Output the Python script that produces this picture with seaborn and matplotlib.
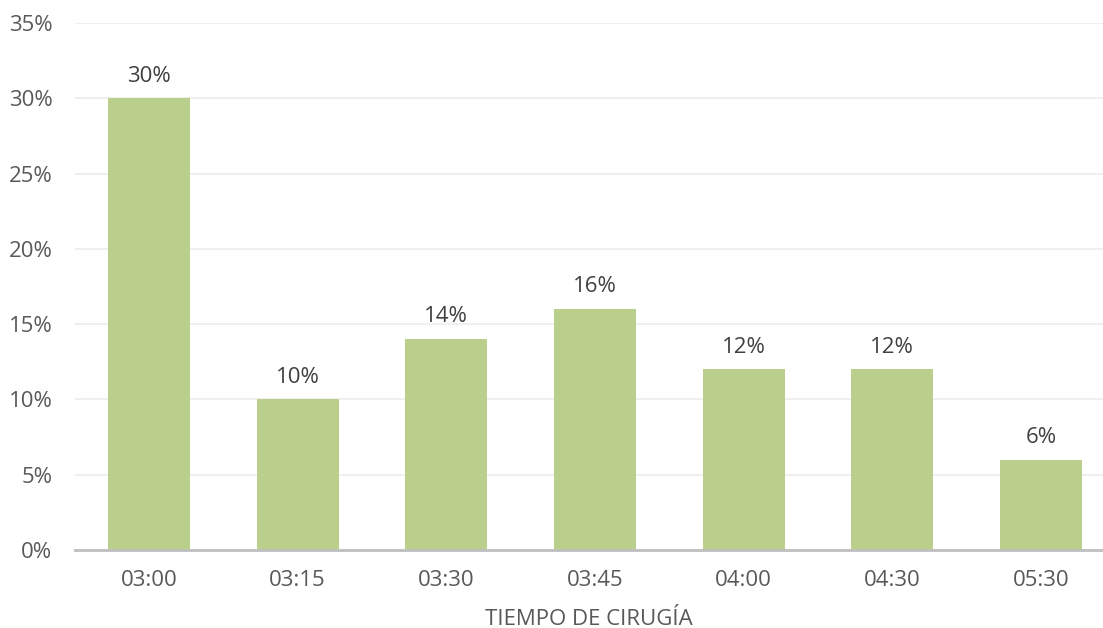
import numpy as np
import matplotlib
matplotlib.use("Agg")
import matplotlib.pyplot as plt
import seaborn as sns
from matplotlib.ticker import PercentFormatter

# datos
tiempos = ["03:00", "03:15", "03:30", "03:45", "04:00", "04:30", "05:30"]
porcentajes = [0.30, 0.10, 0.14, 0.16, 0.12, 0.12, 0.06]
etiquetas = ["30%", "10%", "14%", "16%", "12%", "12%", "6%"]

sns.set_theme(style="white")
plt.rcParams["font.family"] = ["Open Sans", "DejaVu Sans"]

W, H = 1103, 628
fig = plt.figure(figsize=(W / 100, H / 100), dpi=100)
ax = fig.add_axes([74.67 / W, 78 / H, (W - 74.67) / W, 527 / H])

sns.barplot(x=tiempos, y=porcentajes, color="#bbcf8c", width=0.55,
            saturation=1, linewidth=0, ax=ax, zorder=3)

ax.set_xlim(-0.5, 6.417)
ax.set_ylim(0, 0.35)
ax.set_yticks(np.arange(0, 0.351, 0.05))
ax.yaxis.set_major_formatter(PercentFormatter(1.0, decimals=0))
ax.grid(axis="y", color="#ececec", linewidth=1.2, zorder=0)

for s in ["top", "right", "left"]:
    ax.spines[s].set_visible(False)
ax.spines["bottom"].set_color("#bfbfbf")
ax.spines["bottom"].set_linewidth(2)
ax.spines["bottom"].set_zorder(4)

ax.tick_params(axis="both", length=0, labelsize=16, labelcolor="#595959")
ax.tick_params(axis="x", pad=14.5)
ax.tick_params(axis="y", pad=16)

for i, (v, t) in enumerate(zip(porcentajes, etiquetas)):
    ax.annotate(t, (i, v), xytext=(0, 16), textcoords="offset points",
                ha="center", va="center", fontsize=16, color="#404040")

ax.set_xlabel("TIEMPO DE CIRUGÍA", fontsize=16, color="#595959", labelpad=13)

fig.savefig("out.png", dpi=100)
